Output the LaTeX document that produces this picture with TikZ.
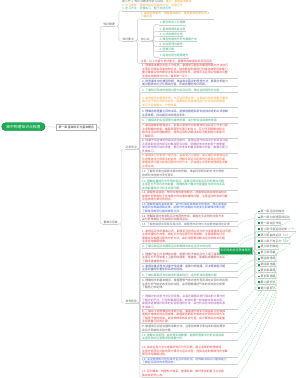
\documentclass[tikz,border=0pt]{standalone}
\usepackage{fontspec}
\setmainfont{Noto Sans CJK SC}
\definecolor{rootg}{RGB}{26,173,84}
\definecolor{nodeg}{RGB}{12,160,72}
\definecolor{cred}{RGB}{232,70,70}
\definecolor{cnavy}{RGB}{80,80,165}
\definecolor{cgreen}{RGB}{55,175,120}
\definecolor{corange}{RGB}{244,165,60}
\definecolor{cpurple}{RGB}{165,85,175}
\definecolor{corred}{RGB}{238,100,65}
\definecolor{cgray}{RGB}{105,105,105}
\definecolor{cblue}{RGB}{70,105,225}
\definecolor{cmaroon}{RGB}{180,75,85}
\definecolor{cslate}{RGB}{110,120,165}
\definecolor{cteal}{RGB}{60,180,160}
\definecolor{linec}{RGB}{205,205,205}
\definecolor{relc}{RGB}{140,218,165}
\begin{document}
\begin{tikzpicture}[x=1pt,y=-1pt,
  base/.style={font=\fontsize{2.85}{3.5}\selectfont, inner xsep=0pt, inner ysep=0.5pt},
  blk/.style={base, anchor=north west, align=left},
  lab/.style={base, anchor=south west, text=cgray, inner xsep=0.3pt},
  conn/.style={draw=linec, line width=0.45pt, rounded corners=1.6pt},
  ul/.style={draw=linec, line width=0.35pt},
  rel/.style={draw=relc, line width=0.35pt, dash pattern=on 1.3pt off 1.1pt},
  rootn/.style={fill=rootg, draw=rootg!70!black, line width=0.4pt, rounded corners=4pt, minimum width=43.5pt, minimum height=8pt, text=white, font=\fontsize{3.8}{4}\selectfont, inner sep=0pt},
  boxn/.style={draw=gray!60, fill=white, line width=0.4pt, minimum width=40.7pt, minimum height=6.7pt, font=\fontsize{2.9}{3}\selectfont, inner sep=0pt, text=black!80},
  gnode/.style={fill=nodeg, draw=nodeg!45, line width=0.6pt, minimum width=33pt, minimum height=6.5pt, text=white, font=\fontsize{3}{3}\selectfont, inner sep=0pt},
  itemn/.style={base, anchor=south west, text=cgray},
  mk/.style={fill=nodeg, minimum size=1.8pt, inner sep=0pt}
]
\useasboundingbox (0,0) rectangle (300,378);
\fill[white] (0,0) rectangle (300,378);

% root and first level
\node[rootn] (root) at (23.4,126.7) {高中物理知识点梳理};
\node[boxn] (sec) at (76.3,127.1) {第一章 基础知识与基本概念};
\draw[conn] (root.east) -- (sec.west);

\node[lab] (b1) at (103,26) {知识概要};
\node[lab] (b2) at (103,224) {重难点突破};
\draw[conn] (sec.east) -- ++(3.3,0) |- (b1.south west);
\draw[conn] (sec.east) -- ++(3.3,0) |- (b2.south west);

% branch 1
\node[blk] (t0) at (122,-0.3) {\textcolor{cgray}{第二节 1. 知识点概述与学习目标，}\textcolor{corange}{重点：掌握基本概念}\\
\textcolor{corange}{2. 学习要求：理解并会应用相关公式，注意区分}\\
\textcolor{cteal}{3. 学习方法：多做练习，勤于总结反思}};
\node[lab] (n1) at (122,41) {知识要点};
\draw[conn] (b1.south east) -- ++(3.5,0) |- (t0.south west);
\draw[conn] (b1.south east) -- ++(3.5,0) |- (n1.south west);
\draw[ul] (t0.south west) -- ++(85,0);

\node[blk,text=corange] (t1) at (140.5,11.3) {1. 课程标准要求：理解基本概念，掌握基本规律和方法\\了解应用};
\node[lab] (n2) at (140.5,41) {核心点};
\node[blk,text=cred] (t2) at (140.5,59.5) {注意：以上内容为考试重点，需要熟练掌握并能灵活运用};
\foreach \c in {t1,n2,t2} \draw[conn] (n1.south east) -- ++(3,0) |- (\c.south west);
\draw[ul] (t1.south west) -- ++(73,0);
\draw[ul] (t2.south west) -- ++(72,0);

\node[lab,text=cgreen] (g1) at (159,24.7) {1. 概念的定义与理解};
\node[lab,text=cgreen] (g2) at (159,31.3) {2. 基本规律及其应用};
\node[lab,text=cgreen] (g3) at (159,36.3) {3. 公式的推导过程};
\node[lab,text=cgreen] (g4) at (159,41.3) {4. 典型例题的分析与解题方法};
\node[lab,text=cgreen] (g5) at (159,46.3) {5. 实验原理与操作};
\node[lab,text=cgreen] (g6) at (159,51.3) {6. 图像问题};
\node[lab,text=cgreen] (g7) at (159,57.7) {7. 综合应用与拓展提升};
\foreach \c in {g1,g2,g3,g4,g5,g6,g7} \draw[conn] (n2.south east) -- ++(3.5,0) |- (\c.south west);

% branch 2
\node[lab] (sA) at (125,149) {必考考点};
\node[lab] (sB) at (125,303) {常考题型};
\draw[conn] (b2.south east) -- ++(3,0) |- (sA.south west);
\draw[conn] (b2.south east) -- ++(3,0) |- (sB.south west);
\foreach \n in {b1,b2,n1,n2,sA,sB,g1,g2,g3,g4,g5,g6,g7} \draw[ul] (\n.south west) -- (\n.south east);

\node[blk,text=cred] (A1) at (142,63.7) {1. 理解基本概念的定义与性质，掌握常见题型的解题思路与方法技巧\\注意区分容易混淆的知识点，结合典型例题进行归纳总结和反复练习\\重点掌握公式的推导过程及其适用条件，能够灵活运用公式解决问题\\注意总结规律与方法，做到举一反三。};
\node[blk,text=cnavy] (A2) at (142,79) {2. 熟悉课本中的典型例题，体会其中蕴含的思想方法，提高分析能力\\通过图表对比记忆相关内容，形成完整的知识网络。};
\node[blk,text=cgreen] (A3) at (142,88) {3. 了解知识形成的发展过程与实际应用，常以选择题形式出现};
\node[blk,text=corange] (A4) at (142,96.3) {4. 掌握规范的答题步骤，书写过程要完整，注意单位和有效数字要求\\难点在于知识的综合应用，需要结合具体情境进行分析和判断推理\\常见于综合题中，分值较高。};
\node[blk,text=cnavy] (A5) at (142,109.7) {5. 理解各物理量之间的关系，能够根据题目条件选择合适的公式求解\\注意审题，找出题目中的隐含条件。};
\node[blk,text=cgreen] (A6) at (142,118.7) {6. 了解相关的实验原理与操作步骤，会分析实验误差的来源};
\node[blk,text=cred] (A7) at (142,123.7) {7. 掌握图像的物理意义，能够从图像中获取有效信息并进行分析计算\\注意图像的斜率、截距和面积所表示的含义，区分不同图像的特点\\结合生活实例理解概念，培养运用知识解决实际问题的能力和意识\\了解即可。};
\node[blk,text=cpurple] (A8) at (142,138.7) {8. 理解守恒定律的内容及适用条件，能够运用守恒观点分析综合问题\\注意选取合适的研究对象和研究过程，明确初末状态的各个物理量\\常与其他知识综合考查，是历年考试的重点和难点内容，需重点复习\\多做练习。};
\node[blk,text=corred] (A9) at (142,153.5) {9. 掌握受力分析的一般方法，会画受力示意图，能正确分析物体运动\\注意整体法与隔离法的选用，理解牛顿运动定律的内容及应用范围\\掌握临界问题与极值问题的分析方法，学会建立合理的物理模型求解\\注意总结。};
\node[blk,text=cgray] (A10) at (142,169.7) {10. 了解科学家在探索过程中的贡献，体会科学研究的方法与思想\\培养科学态度与责任意识。};
\node[blk,text=cgreen] (A11) at (142,179) {11. 理解能量转化与守恒的观点，能够运用功能关系分析解决问题\\注意区分不同形式的能量，明确各种力做功与能量变化的对应关系\\会用能量观点分析多过程问题。};
\node[blk,text=cred] (A12) at (142,190.7) {12. 掌握电场强度、电势和电势差等概念，理解电场线和等势面特点\\能够分析带电粒子在电场中的加速和偏转问题，注意运动的合成分解\\注意电场力做功的特点。};
\node[blk,text=cblue] (A13) at (142,202.3) {13. 理解电路的基本规律，会分析串并联电路中的电流、电压和电阻\\掌握闭合电路欧姆定律，能够分析电路的动态变化和故障判断问题\\了解常用电学仪器的使用方法。};
\node[blk,text=cmaroon] (A14) at (142,214) {14. 理解磁场对电流和运动电荷的作用，掌握左手定则的应用方法\\会分析带电粒子在磁场中的圆周运动。};
\node[blk,text=cslate] (A15) at (142,222.3) {15. 了解电磁感应现象及其应用，掌握楞次定律与法拉第电磁感应定律};
\foreach \c in {A1,A2,A3,A4,A5,A6,A7,A8,A9,A10,A11,A12,A13,A14,A15} {
  \draw[conn] (sA.south east) -- ++(2.5,0) |- (\c.south west);
  \draw[ul] (\c.south west) -- ++(96,0);
}

\node[blk,text=cred] (B1) at (142,229) {1. 掌握运动学的基本公式，能够灵活选用公式分析匀变速直线运动问题\\注意矢量的方向性，规定正方向后再列方程求解，注意结果的讨论\\理解追及相遇问题的分析方法，会利用图像法解决运动学相关问题\\注意总结解题规律。};
\node[blk,text=cgreen] (B2) at (142,244) {2. 了解平抛运动与圆周运动的规律及其在生活中的应用};
\node[blk,text=cmaroon] (B3) at (142,252) {3. 理解万有引力定律的内容，能够分析天体运动与人造卫星相关问题\\注意区分不同轨道上卫星的线速度、角速度、周期和加速度的关系\\了解宇宙速度的含义。};
\node[blk,text=cnavy] (B4) at (142,264) {4. 掌握动量定理与动量守恒定律，能够分析碰撞、反冲等典型问题\\注意动量的矢量性和系统的选取。};
\node[blk,text=cgreen] (B5) at (142,273) {5. 了解机械振动与机械波的基本特征，会分析波的图像问题};
\node[blk,text=cgray] (B6) at (142,278.7) {6. 理解热学的基本概念，掌握理想气体状态方程及其在实际中的应用\\注意分析气体状态变化的过程，会用图像描述气体的状态变化规律\\了解热力学定律。};
\node[blk,text=cpurple] (B7) at (142,294.7) {7. 理解光的折射与全反射现象，会画光路图并进行相关的计算分析\\了解光的干涉、衍射和偏振现象，知道光是一种电磁波及其应用\\掌握测定玻璃折射率的实验原理和方法，会分析实验中的误差来源\\多加练习。};
\node[blk,text=cred] (B8) at (142,309) {8. 了解原子结构模型的发展历程，掌握玻尔理论与能级跃迁的规律\\理解光电效应的实验规律，掌握爱因斯坦光电效应方程的应用方法\\了解原子核的组成、衰变规律和核反应方程，会计算核反应的能量\\注意质量亏损的计算。};
\node[blk,text=cgray] (B9) at (142,324.7) {9. 掌握常见实验仪器的读数方法，注意有效数字和估读的相关要求\\会设计简单的实验方案。};
\node[blk,text=cgreen] (B10) at (142,333) {10. 理解实验原理，会处理实验数据，能够用图像法分析实验结果\\注意实验的注意事项和误差分析。};
\node[blk,text=cred] (B11) at (142,345.7) {11. 综合运用力学与电磁学知识分析问题，建立清晰的物理情境\\注意分析研究对象的受力情况与运动过程，选择合适的规律列式求解\\规范书写解题过程。};
\node[blk,text=cblue] (B12) at (142,357) {12. 关注物理知识在科技与生活中的应用，培养解决实际问题的能力\\了解前沿科技的发展动态。};
\node[blk,text=cred] (B13) at (142,369.7) {13. 回归课本，梳理知识体系，查漏补缺，做好考前的复习与总结\\保持良好的心态。};
\foreach \c in {B1,B2,B3,B4,B5,B6,B7,B8,B9,B10,B11,B12,B13} {
  \draw[conn] (sB.south east) -- ++(2.5,0) |- (\c.south west);
  \draw[ul] (\c.south west) -- ++(96,0);
}

% right summary node and items
\node[gnode] (G) at (235.5,250.8) {知识结构总览思维导图};
\foreach \i/\t in {0/第一章 运动的描述,1/第一章 匀变速直线运动,2/第一章 相互作用,3/第二章 牛顿运动定律（一）,4/第二章 曲线运动（二）,5/第二章 万有引力（三）,6/第三章 机械能,7/第三章 动量,8/第四章 电场,9/第四章 电路,10/第五章 磁场,11/第五章 电磁,12/第六章 光学,13/第六章 原子} {
  \node[itemn] (I\i) at (257.5,{213.5+5.9*\i}) {\hspace{3pt}\t};
  \node[mk] (M\i) at ([xshift=1.1pt,yshift=2pt]I\i.south west) {};
  \draw[conn] (G.east) -- ++(2.6,0) |- (I\i.south west);
  \draw[ul] (I\i.south west) -- (I\i.south east);
}

% relationship lines
\foreach \s/\t in {A15/I0,B1/I1,B2/I2,B3/I3,B4/I4,B5/I5,B6/I6,B7/I7,B8/I8,B9/I9,B10/I10,B11/I11,B12/I12,B13/I13}
  \draw[rel] ([xshift=96pt,yshift=1.2pt]\s.south west) .. controls +(10,-12) and +(6,8) .. (\t.east);
\end{tikzpicture}
\end{document}
